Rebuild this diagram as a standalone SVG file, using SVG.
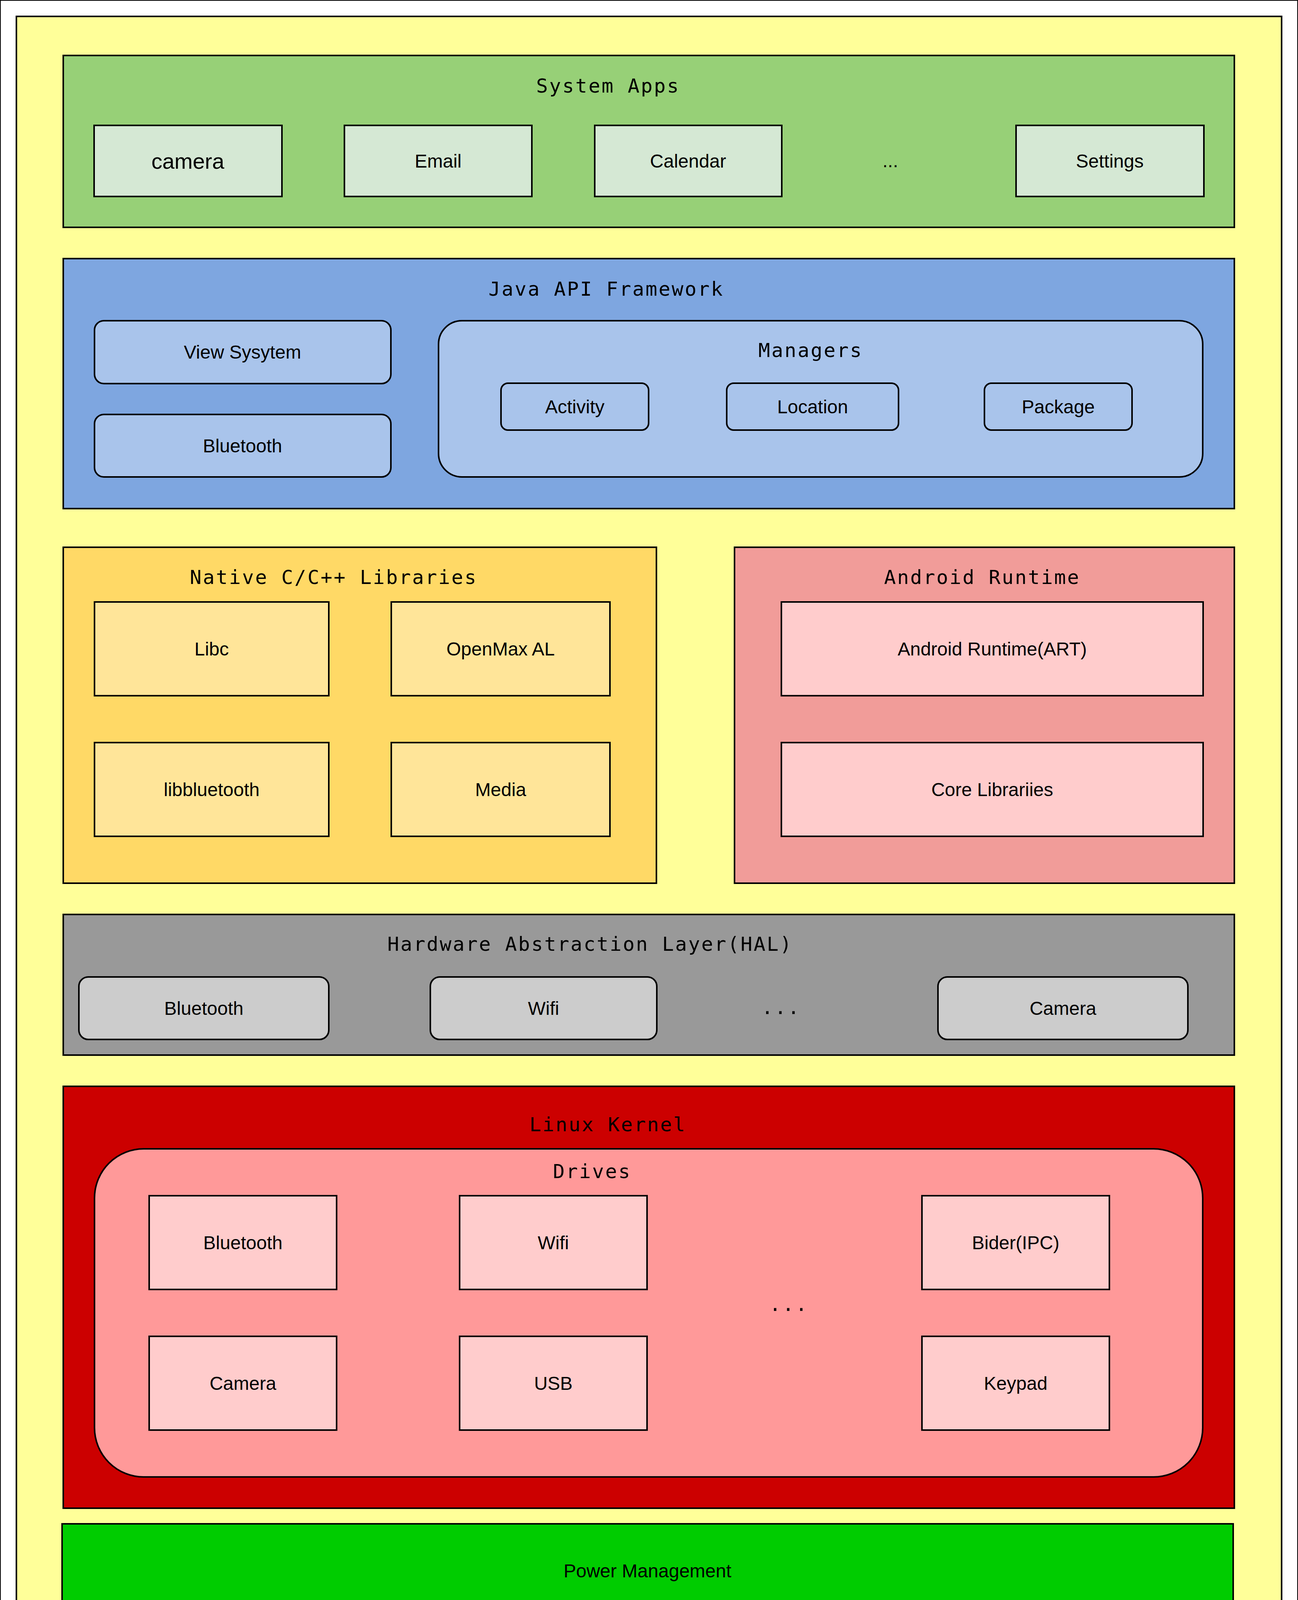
<svg xmlns="http://www.w3.org/2000/svg" width="3324" height="4224" viewBox="0 0 3324 4224">
<style>
rect{stroke:#000;stroke-width:4}
.t{font-family:"DejaVu Sans Mono","Liberation Mono",monospace;font-size:50px;letter-spacing:3.4px;fill:#000}
.l{font-family:"Liberation Sans",Arial,sans-serif;font-size:48px;fill:#000;text-anchor:middle}
.wm{font-family:"Liberation Sans","Noto Sans CJK SC",sans-serif;font-size:60px;fill:#ffffff;fill-opacity:0.8;stroke:#9a9a9a;stroke-opacity:0.45;stroke-width:1.5}
</style>
<rect x="0" y="0" width="3324" height="4224" fill="#ffffff" stroke="none"/>
<g id="background"><rect x="42" y="42" width="3240" height="4140" fill="#FFFF99"/></g>

<g id="system-apps">
<rect x="162" y="142" width="2999" height="440" fill="#97D077"/>
<text class="t" x="1373" y="237">System Apps</text>
<g id="app-camera"><rect x="241" y="321" width="481" height="182" fill="#D5E8D4"/><text class="l" x="481" y="432" style="font-size:56px">camera</text></g>
<g id="app-email"><rect x="882" y="321" width="480" height="182" fill="#D5E8D4"/><text class="l" x="1122" y="429">Email</text></g>
<g id="app-calendar"><rect x="1523" y="321" width="479" height="182" fill="#D5E8D4"/><text class="l" x="1762" y="429">Calendar</text></g>
<text class="l" x="2280" y="428">...</text>
<g id="app-settings"><rect x="2602" y="321" width="481" height="182" fill="#D5E8D4"/><text class="l" x="2842" y="429">Settings</text></g>
</g>

<g id="java-api">
<rect x="162" y="662" width="2999" height="640" fill="#7EA6E0"/>
<text class="t" x="1251" y="757">Java API Framework</text>
<g id="view-system"><rect x="242" y="821" width="759" height="161" rx="24" fill="#A9C4EB"/><text class="l" x="621" y="918">View Sysytem</text></g>
<g id="java-bluetooth"><rect x="242" y="1061" width="759" height="160" rx="24" fill="#A9C4EB"/><text class="l" x="621" y="1158">Bluetooth</text></g>
<g id="managers">
<rect x="1123" y="821" width="1957" height="400" rx="60" fill="#A9C4EB"/>
<text class="t" x="1942" y="914">Managers</text>
<g id="mgr-activity"><rect x="1283" y="981" width="378" height="120" rx="18" fill="#A9C4EB"/><text class="l" x="1472" y="1058">Activity</text></g>
<g id="mgr-location"><rect x="1861" y="981" width="440" height="120" rx="18" fill="#A9C4EB"/><text class="l" x="2081" y="1058">Location</text></g>
<g id="mgr-package"><rect x="2521" y="981" width="378" height="120" rx="18" fill="#A9C4EB"/><text class="l" x="2710" y="1058">Package</text></g>
</g>
</g>

<g id="native-libs">
<rect x="162" y="1401" width="1519" height="860" fill="#FFD966"/>
<text class="t" x="486" y="1495">Native C/C++ Libraries</text>
<g id="libc"><rect x="242" y="1541" width="600" height="240" fill="#FFE599"/><text class="l" x="542" y="1678">Libc</text></g>
<g id="openmax"><rect x="1002" y="1541" width="560" height="240" fill="#FFE599"/><text class="l" x="1282" y="1678">OpenMax AL</text></g>
<g id="libbluetooth"><rect x="242" y="1901" width="600" height="240" fill="#FFE599"/><text class="l" x="542" y="2038">libbluetooth</text></g>
<g id="media"><rect x="1002" y="1901" width="560" height="240" fill="#FFE599"/><text class="l" x="1282" y="2038">Media</text></g>
</g>

<g id="android-runtime">
<rect x="1881" y="1401" width="1280" height="860" fill="#F19C99"/>
<text class="t" x="2264" y="1495">Android Runtime</text>
<g id="art"><rect x="2001" y="1541" width="1080" height="240" fill="#FFCCCC"/><text class="l" x="2541" y="1678">Android Runtime(ART)</text></g>
<g id="core-libs"><rect x="2001" y="1901" width="1080" height="240" fill="#FFCCCC"/><text class="l" x="2541" y="2038">Core Librariies</text></g>
</g>

<g id="hal">
<rect x="162" y="2341" width="2999" height="360" fill="#999999"/>
<text class="t" x="992" y="2434">Hardware Abstraction Layer(HAL)</text>
<g id="hal-bluetooth"><rect x="202" y="2501" width="640" height="160" rx="24" fill="#CCCCCC"/><text class="l" x="522" y="2598">Bluetooth</text></g>
<g id="hal-wifi"><rect x="1102" y="2501" width="580" height="160" rx="24" fill="#CCCCCC"/><text class="l" x="1392" y="2598">Wifi</text></g>
<text class="t" x="1950" y="2596">...</text>
<g id="hal-camera"><rect x="2402" y="2501" width="640" height="160" rx="24" fill="#CCCCCC"/><text class="l" x="2722" y="2598">Camera</text></g>
</g>

<g id="linux-kernel">
<rect x="162" y="2781" width="2999" height="1080" fill="#CC0000"/>
<text class="t" x="1356" y="2896">Linux Kernel</text>
<g id="drives">
<rect x="242" y="2941" width="2838" height="840" rx="126" fill="#FF9999"/>
<text class="t" x="1416" y="3016">Drives</text>
<g id="drv-bluetooth"><rect x="382" y="3061" width="480" height="240" fill="#FFCCCC"/><text class="l" x="622" y="3198">Bluetooth</text></g>
<g id="drv-wifi"><rect x="1177" y="3061" width="480" height="240" fill="#FFCCCC"/><text class="l" x="1417" y="3198">Wifi</text></g>
<g id="drv-binder"><rect x="2361" y="3061" width="480" height="240" fill="#FFCCCC"/><text class="l" x="2601" y="3198">Bider(IPC)</text></g>
<text class="t" x="1970" y="3356">...</text>
<g id="drv-camera"><rect x="382" y="3421" width="480" height="240" fill="#FFCCCC"/><text class="l" x="622" y="3558">Camera</text></g>
<g id="drv-usb"><rect x="1177" y="3421" width="480" height="240" fill="#FFCCCC"/><text class="l" x="1417" y="3558">USB</text></g>
<g id="drv-keypad"><rect x="2361" y="3421" width="480" height="240" fill="#FFCCCC"/><text class="l" x="2601" y="3558">Keypad</text></g>
</g>
</g>

<g id="power-management">
<rect x="159" y="3901" width="2999" height="240" fill="#00CC00"/>
<text class="l" x="1658" y="4038">Power Management</text>
</g>

<g id="connectors"></g>

<text class="wm" x="2758" y="4190">CSDN @byte轻骑兵</text>
</svg>
